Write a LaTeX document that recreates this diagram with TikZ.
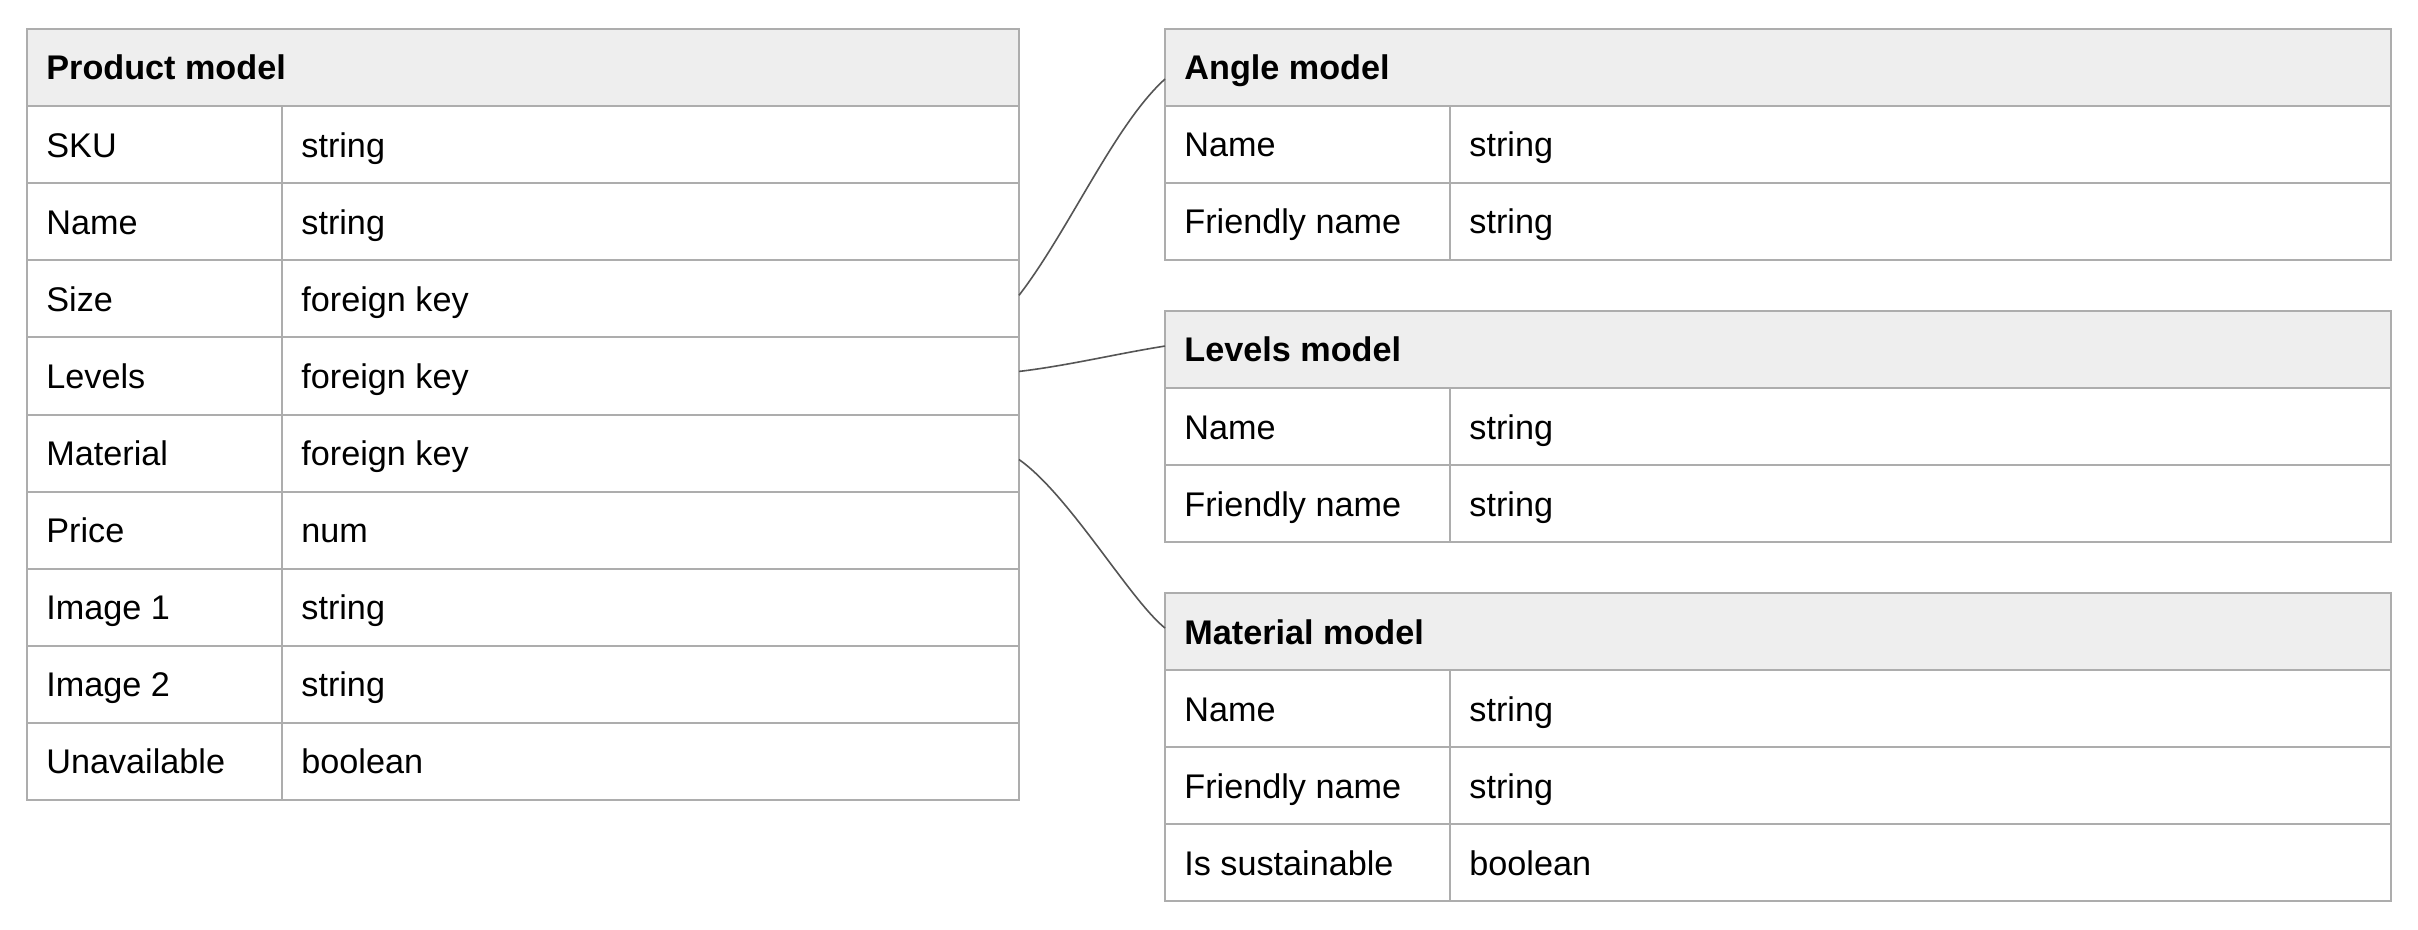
\documentclass[tikz,border=0pt]{standalone}
\usepackage{fontspec}
\setmainfont{Liberation Sans}
\definecolor{bordercol}{HTML}{ADADAD}
\definecolor{headfill}{HTML}{EEEEEE}
\definecolor{linkcol}{HTML}{555555}
\tikzset{
  cell/.style={draw=bordercol, line width=1pt, minimum height=38.55pt, inner sep=0pt, outer sep=0pt, anchor=north west},
  headcell/.style={cell, fill=headfill},
  txt/.style={anchor=base west, inner sep=0pt, font=\fontsize{17.1}{20}\selectfont},
  htxt/.style={txt, font=\fontsize{17.1}{20}\selectfont\bfseries},
  link/.style={draw=linkcol, line width=0.8pt},
}
% #1 prefix, #2 x left, #3 x divider, #4 y top, #5 width1, #6 width2, #7 key, #8 type
\newcommand\ermrow[8]{%
  \node[cell, minimum width=#5] (#1k) at (#2,#4) {};
  \node[cell, minimum width=#6] (#1v) at (#3,#4) {};
  \node[txt] (#1kt) at (#2+19,#4+51) {#7};
  \node[txt] (#1vt) at (#3+19,#4+51) {#8};
}
% #1 name, #2 x, #3 y, #4 width, #5 text
\newcommand\ermhead[5]{%
  \node[headcell, minimum width=#4] (#1) at (#2,#3) {};
  \node[htxt] (#1t) at (#2+19,#3+51) {#5};
}
\begin{document}
\begin{tikzpicture}[x=0.5pt,y=-0.5pt]
\fill[white] (0,0) rectangle (2418,930);
% Product model
\ermhead{phead}{27}{29}{496pt}{Product model}
\ermrow{psku}{27}{282}{106.1}{127.5pt}{368.5pt}{SKU}{string}
\ermrow{pname}{27}{282}{183.2}{127.5pt}{368.5pt}{Name}{string}
\ermrow{psize}{27}{282}{260.3}{127.5pt}{368.5pt}{Size}{foreign key}
\ermrow{plev}{27}{282}{337.4}{127.5pt}{368.5pt}{Levels}{foreign key}
\ermrow{pmat}{27}{282}{414.5}{127.5pt}{368.5pt}{Material}{foreign key}
\ermrow{pprice}{27}{282}{491.6}{127.5pt}{368.5pt}{Price}{num}
\ermrow{pimga}{27}{282}{568.7}{127.5pt}{368.5pt}{Image 1}{string}
\ermrow{pimgb}{27}{282}{645.8}{127.5pt}{368.5pt}{Image 2}{string}
\ermrow{punav}{27}{282}{722.9}{127.5pt}{368.5pt}{Unavailable}{boolean}
% Angle model
\ermhead{ahead}{1165}{29}{613pt}{Angle model}
\ermrow{aname}{1165}{1450}{106}{142.5pt}{470.5pt}{Name}{string}
\ermrow{afname}{1165}{1450}{183}{142.5pt}{470.5pt}{Friendly name}{string}
% Levels model
\ermhead{lhead}{1165}{311}{613pt}{Levels model}
\ermrow{lname}{1165}{1450}{388}{142.5pt}{470.5pt}{Name}{string}
\ermrow{lfname}{1165}{1450}{465}{142.5pt}{470.5pt}{Friendly name}{string}
% Material model
\ermhead{mhead}{1165}{593}{613pt}{Material model}
\ermrow{mname}{1165}{1450}{670}{142.5pt}{470.5pt}{Name}{string}
\ermrow{mfname}{1165}{1450}{747}{142.5pt}{470.5pt}{Friendly name}{string}
\ermrow{msust}{1165}{1450}{824}{142.5pt}{470.5pt}{Is sustainable}{boolean}
% connectors
\draw[link] ([yshift=1.75pt]psizev.east) .. controls +(50,-65) and +(-50,45) .. ([yshift=-5.75pt]ahead.west);
\draw[link] ([yshift=2.25pt]plevv.east) .. controls +(50,-6) and +(-50,8) .. ([yshift=1.75pt]lhead.west);
\draw[link] ([yshift=-3.25pt]pmatv.east) .. controls +(50,35) and +(-35,-28) .. ([yshift=1.75pt]mhead.west);
\end{tikzpicture}
\end{document}
